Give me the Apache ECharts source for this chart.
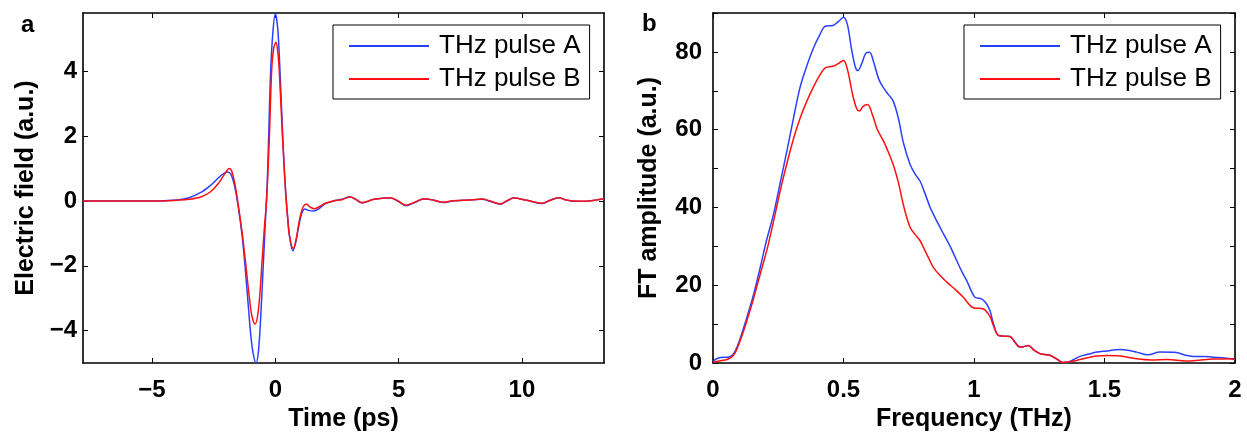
<!DOCTYPE html>
<html>
<head>
<meta charset="utf-8">
<script src="https://cdn.jsdelivr.net/npm/echarts@6/dist/echarts.min.js"></script>
<style>
  html, body { margin: 0; padding: 0; background: #fff; }
  #chart { width: 1247px; height: 434px; }
</style>
</head>
<body>
<div id="chart"></div>
<script>
// panel a: time trace (ps, a.u.)
const timeA = [-7.8, -6, -5, -4.5, -4, -3.5, -3, -2.6, -2.3, -2.1, -1.95, -1.8, -1.65, -1.5, -1.35, -1.23, -1.1, -1.0, -0.9, -0.78, -0.68, -0.58, -0.49, -0.4, -0.33, -0.27, -0.19, -0.1, 0.0, 0.1, 0.19, 0.3, 0.4, 0.49, 0.58, 0.71, 0.82, 0.92, 1.07, 1.2, 1.34, 1.55, 1.75, 2.0, 2.35, 2.7, 3.03, 3.25, 3.5, 4.0, 4.65, 5.0, 5.3, 5.65, 6.03, 6.4, 6.82, 7.2, 7.63, 8.0, 8.37, 8.75, 9.12, 9.4, 9.66, 10.2, 10.8, 11.15, 11.48, 11.8, 12.09, 12.63, 13.0, 13.33];
const fieldA = [0, 0, 0, 0.01, 0.03, 0.1, 0.27, 0.5, 0.72, 0.84, 0.89, 0.82, 0.45, -0.2, -1.05, -2.0, -3.2, -4.1, -4.7, -5.0, -4.6, -3.4, -2.0, -0.6, 0.5, 2.0, 4.0, 5.2, 5.78, 5.3, 4.0, 2.0, 0.5, -0.4, -1.1, -1.54, -1.3, -0.9, -0.39, -0.25, -0.29, -0.31, -0.25, -0.1, 0.0, 0.05, 0.13, 0.05, -0.06, 0.05, 0.1, -0.02, -0.15, -0.05, 0.06, 0.03, -0.05, 0.0, 0.02, 0.04, 0.05, -0.02, -0.1, 0.0, 0.09, 0.02, -0.08, 0.02, 0.1, 0.03, -0.01, -0.01, 0.03, 0.07];
const timeB = [-7.8, -6, -5, -4.5, -4, -3.5, -3, -2.6, -2.3, -2.1, -1.95, -1.87, -1.75, -1.6, -1.5, -1.35, -1.2, -1.05, -0.95, -0.82, -0.7, -0.6, -0.55, -0.45, -0.35, -0.24, -0.15, -0.07, 0.03, 0.1, 0.16, 0.29, 0.4, 0.49, 0.58, 0.73, 0.84, 0.95, 1.07, 1.18, 1.27, 1.4, 1.58, 1.8, 2.0, 2.35, 2.7, 3.03, 3.25, 3.5, 4.0, 4.65, 5.0, 5.3, 5.65, 6.03, 6.4, 6.82, 7.2, 7.63, 8.0, 8.37, 8.75, 9.12, 9.4, 9.66, 10.2, 10.8, 11.15, 11.48, 11.8, 12.09, 12.63, 13.0, 13.33];
const fieldB = [0, 0, 0, 0.0, 0.02, 0.05, 0.13, 0.3, 0.55, 0.78, 0.95, 1.0, 0.88, 0.35, -0.15, -0.95, -1.95, -3.0, -3.55, -3.8, -3.45, -2.6, -2.0, -0.9, 0.1, 2.0, 4.0, 4.7, 4.9, 4.6, 4.0, 2.0, 0.5, -0.45, -1.1, -1.47, -1.2, -0.7, -0.3, -0.12, -0.1, -0.18, -0.24, -0.17, -0.08, 0.0, 0.04, 0.12, 0.06, -0.05, 0.05, 0.1, -0.01, -0.13, -0.04, 0.07, 0.03, -0.04, 0.01, 0.02, 0.04, 0.06, -0.01, -0.09, 0.01, 0.09, 0.02, -0.07, 0.02, 0.1, 0.03, 0.0, -0.01, 0.03, 0.07];

// panel b: spectrum (THz, a.u.)
const freqA = [0, 0.028, 0.06, 0.079, 0.1, 0.13, 0.155, 0.181, 0.205, 0.232, 0.258, 0.283, 0.31, 0.334, 0.36, 0.385, 0.41, 0.43, 0.46, 0.48, 0.5, 0.515, 0.53, 0.545, 0.555, 0.57, 0.585, 0.6, 0.615, 0.635, 0.653, 0.67, 0.69, 0.71, 0.73, 0.755, 0.775, 0.793, 0.81, 0.832, 0.844, 0.865, 0.883, 0.91, 0.934, 0.955, 0.972, 0.99, 1.004, 1.029, 1.045, 1.061, 1.075, 1.093, 1.115, 1.138, 1.155, 1.176, 1.19, 1.208, 1.23, 1.253, 1.27, 1.291, 1.32, 1.342, 1.367, 1.385, 1.406, 1.44, 1.47, 1.51, 1.559, 1.59, 1.623, 1.667, 1.712, 1.776, 1.81, 1.839, 1.88, 1.916, 1.96, 2.0];
const ampA = [0.5, 1.4, 1.5, 2.4, 5.5, 11.8, 17.5, 24.6, 31.5, 38.3, 46.5, 54.5, 63.5, 71, 76.5, 81.0, 84.5, 86.6, 86.8, 87.8, 88.9, 87, 81, 76.2, 75.2, 77, 79.6, 79.9, 77.5, 73, 70.8, 69.2, 67.4, 63, 56.5, 51.1, 48.5, 46.8, 44, 40, 38.3, 35.5, 33.2, 29.8, 26.3, 23.3, 21.2, 18.5, 16.9, 16.5, 15.5, 13.5, 10, 7.1, 6.9, 6.8, 5.5, 4.1, 4.2, 4.5, 3.3, 2.4, 2.2, 2.0, 0.9, 0.1, 0.4, 1.0, 1.7, 2.3, 2.8, 3.1, 3.5, 3.3, 2.8, 2.1, 2.8, 2.7, 2.0, 1.7, 1.7, 1.5, 1.3, 0.9];
const freqB = [0, 0.03, 0.054, 0.079, 0.1, 0.13, 0.155, 0.181, 0.21, 0.238, 0.26, 0.285, 0.309, 0.335, 0.36, 0.385, 0.411, 0.43, 0.46, 0.48, 0.5, 0.515, 0.535, 0.55, 0.561, 0.575, 0.592, 0.61, 0.63, 0.653, 0.67, 0.69, 0.71, 0.73, 0.755, 0.775, 0.793, 0.815, 0.832, 0.844, 0.87, 0.896, 0.93, 0.959, 0.997, 1.036, 1.061, 1.075, 1.093, 1.115, 1.138, 1.155, 1.176, 1.19, 1.208, 1.23, 1.253, 1.27, 1.291, 1.32, 1.342, 1.367, 1.385, 1.406, 1.44, 1.47, 1.51, 1.559, 1.623, 1.68, 1.74, 1.814, 1.87, 1.916, 2.0];
const ampB = [0.2, 0.6, 0.9, 2.0, 5.0, 10.9, 16.5, 22.9, 30, 38.3, 45, 51.8, 57.8, 63.2, 67.4, 71, 74.2, 75.9, 76.3, 77, 77.8, 75.5, 69, 65.5, 64.8, 66, 66.5, 64, 60, 57.1, 54.5, 51.1, 46.5, 40.5, 34.9, 33, 31.5, 28.5, 26.2, 24.6, 22.5, 20.8, 18.8, 16.9, 14.2, 13.9, 12, 9.5, 7.1, 6.9, 6.8, 5.5, 4.1, 4.2, 4.5, 3.3, 2.4, 2.2, 2.0, 0.9, 0.1, 0.3, 0.5, 0.9, 1.4, 1.8, 1.9, 1.8, 1.1, 0.8, 0.9, 0.5, 0.8, 1.0, 1.1];

const timeTicks = [-5, 0, 5, 10];
const fieldTicks = [-4, -2, 0, 2, 4];
const seriesNames = ['THz pulse A', 'THz pulse B'];

const blue = '#2a40ff';
const red = '#ff1010';
const font = '"Liberation Sans", Arial, Helvetica, sans-serif';

const zip = (xs, ys) => xs.map((x, i) => [x, ys[i]]);
const minus = v => (v < 0 ? '\u2212' + (-v) : String(v));

const chart = echarts.init(document.getElementById('chart'));

const axisLine = { show: true, onZero: false, lineStyle: { color: '#000', width: 1.6 } };
const tick = { show: true, inside: true, length: 5, lineStyle: { color: '#000', width: 1 } };
const tickLabel = { color: '#000', fontSize: 24, fontWeight: 'bold', fontFamily: font };
const nameStyle = { color: '#000', fontSize: 25, fontWeight: 'bold', fontFamily: font };

const legendBase = {
    orient: 'vertical',
    top: 25,
    padding: [8, 9, 7, 16],
    itemGap: 7,
    itemWidth: 80,
    itemHeight: 2,
    icon: 'rect',
    borderColor: '#000',
    borderWidth: 1,
    backgroundColor: '#fff',
    data: seriesNames,
    textStyle: { color: '#000', fontSize: 26, fontFamily: font, padding: [0, 0, 0, 5] },
};

const option = {
    animation: false,
    backgroundColor: '#fff',
    grid: [
        { left: 83, top: 13, right: 643, bottom: 71, outerBoundsMode: 'none' },
        { left: 713, top: 13, right: 12, bottom: 71, outerBoundsMode: 'none' },
    ],
    graphic: [
        { type: 'text', left: 21, top: 13, style: { text: 'a', font: 'bold 24px ' + font, fill: '#000' } },
        { type: 'text', left: 642, top: 12, style: { text: 'b', font: 'bold 24px ' + font, fill: '#000' } },
    ],
    legend: [
        Object.assign({}, legendBase, { left: 333 }),
        Object.assign({}, legendBase, { left: 964 }),
    ],
    xAxis: [
        {
            type: 'value', gridIndex: 0, min: -7.8, max: 13.33,
            axisLine, splitLine: { show: false },
            axisTick: Object.assign({}, tick, { customValues: timeTicks }),
            axisLabel: Object.assign({}, tickLabel, { customValues: timeTicks, margin: 15, formatter: minus }),
            name: 'Time (ps)', nameLocation: 'middle', nameGap: 43, nameTextStyle: nameStyle,
        },
        {
            type: 'value', gridIndex: 0, position: 'top', min: -7.8, max: 13.33,
            axisLine, splitLine: { show: false },
            axisTick: Object.assign({}, tick, { customValues: timeTicks }),
            axisLabel: { show: false },
        },
        {
            type: 'value', gridIndex: 1, min: 0, max: 2, interval: 0.5,
            axisLine, splitLine: { show: false },
            axisTick: tick,
            axisLabel: Object.assign({}, tickLabel, { margin: 15 }),
            name: 'Frequency (THz)', nameLocation: 'middle', nameGap: 43, nameTextStyle: nameStyle,
        },
        {
            type: 'value', gridIndex: 1, position: 'top', min: 0, max: 2, interval: 0.5,
            axisLine, splitLine: { show: false },
            axisTick: tick, axisLabel: { show: false },
        },
    ],
    yAxis: [
        {
            type: 'value', gridIndex: 0, min: -5, max: 5.8,
            axisLine, splitLine: { show: false },
            axisTick: Object.assign({}, tick, { customValues: fieldTicks }),
            axisLabel: Object.assign({}, tickLabel, { customValues: fieldTicks, margin: 6, formatter: minus }),
            name: 'Electric field (a.u.)', nameLocation: 'middle', nameGap: 44, nameTextStyle: nameStyle,
        },
        {
            type: 'value', gridIndex: 0, position: 'right', min: -5, max: 5.8,
            axisLine, splitLine: { show: false },
            axisTick: Object.assign({}, tick, { customValues: fieldTicks }),
            axisLabel: { show: false },
        },
        {
            type: 'value', gridIndex: 1, min: 0, max: 90, interval: 10,
            axisLine, splitLine: { show: false },
            axisTick: tick,
            axisLabel: Object.assign({}, tickLabel, { margin: 11, formatter: v => (v % 20 === 0 ? String(v) : '') }),
            name: 'FT amplitude (a.u.)', nameLocation: 'middle', nameGap: 51, nameTextStyle: nameStyle,
        },
        {
            type: 'value', gridIndex: 1, position: 'right', min: 0, max: 90, interval: 10,
            axisLine, splitLine: { show: false },
            axisTick: tick, axisLabel: { show: false },
        },
    ],
    series: [
        { name: seriesNames[0], type: 'line', xAxisIndex: 0, yAxisIndex: 0, data: zip(timeA, fieldA), color: blue },
        { name: seriesNames[1], type: 'line', xAxisIndex: 0, yAxisIndex: 0, data: zip(timeB, fieldB), color: red },
        { name: seriesNames[0], type: 'line', xAxisIndex: 2, yAxisIndex: 2, data: zip(freqA, ampA), color: blue },
        { name: seriesNames[1], type: 'line', xAxisIndex: 2, yAxisIndex: 2, data: zip(freqB, ampB), color: red },
    ].map(s => Object.assign(s, {
        symbol: 'none',
        smooth: 0.35,
        lineStyle: { width: 1.5, color: s.color },
    })),
};

chart.setOption(option);
</script>
</body>
</html>
